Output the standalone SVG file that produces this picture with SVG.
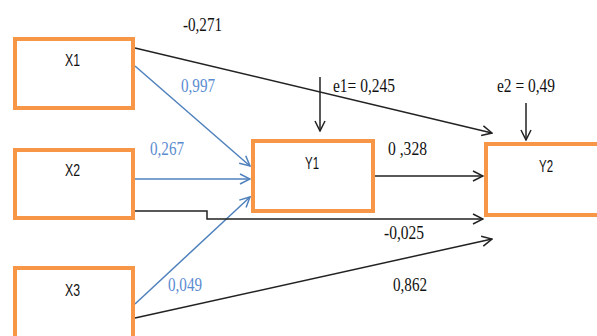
<svg xmlns="http://www.w3.org/2000/svg" width="597" height="336" viewBox="0 0 597 336">
<defs>
<style>
.box{fill:#fff;stroke:#F79646;stroke-width:4}
.lbl{font-family:"Liberation Sans",Arial,sans-serif;font-size:17px;fill:#111}
.num{font-family:"Liberation Serif","Times New Roman",serif;font-size:19px;fill:#111}
.bnum{font-family:"Liberation Serif","Times New Roman",serif;font-size:19px;fill:#5B8BD0}
.k{fill:none;stroke:#222;stroke-width:1.5}
.b{fill:none;stroke:#4F81BD;stroke-width:1.5}
</style>
<marker id="ak" viewBox="0 0 12 12" refX="11" refY="6" markerWidth="12" markerHeight="12" markerUnits="userSpaceOnUse" orient="auto">
<path d="M1,1 L11,6 L1,11" fill="none" stroke="#222" stroke-width="1.5"/>
</marker>
<marker id="ab" viewBox="0 0 12 12" refX="11" refY="6" markerWidth="12" markerHeight="12" markerUnits="userSpaceOnUse" orient="auto">
<path d="M1,1 L11,6 L1,11" fill="none" stroke="#4F81BD" stroke-width="1.5"/>
</marker>
</defs>
<rect width="597" height="336" fill="#fff"/>
<g id="connectors">
<line class="k" x1="135" y1="48" x2="492" y2="133" marker-end="url(#ak)"/>
<line class="b" x1="135" y1="66" x2="250" y2="166" marker-end="url(#ab)"/>
<line class="b" x1="135" y1="179" x2="250" y2="179" marker-end="url(#ab)"/>
<line class="b" x1="135" y1="304" x2="250" y2="197" marker-end="url(#ab)"/>
<path class="k" d="M135,211 H207 V219 H483" marker-end="url(#ak)"/>
<line class="k" x1="374" y1="176" x2="483" y2="176" marker-end="url(#ak)"/>
<line class="k" x1="135" y1="318" x2="492" y2="239" marker-end="url(#ak)"/>
<line class="k" x1="320" y1="77" x2="320" y2="131" marker-end="url(#ak)"/>
<line class="k" x1="526" y1="103" x2="526" y2="140" marker-end="url(#ak)"/>
</g>
<g id="X1"><rect class="box" x="15" y="39" width="118" height="69"/><text class="lbl" x="65" y="66" textLength="15" lengthAdjust="spacingAndGlyphs">X1</text></g>
<g id="X2"><rect class="box" x="15" y="150" width="118" height="68"/><text class="lbl" x="65" y="176" textLength="15" lengthAdjust="spacingAndGlyphs">X2</text></g>
<g id="X3"><rect class="box" x="15" y="268" width="118" height="80"/><text class="lbl" x="65" y="296" textLength="15" lengthAdjust="spacingAndGlyphs">X3</text></g>
<g id="Y1"><rect class="box" x="253" y="141" width="120" height="70"/><text class="lbl" x="305" y="169" textLength="14" lengthAdjust="spacingAndGlyphs">Y1</text></g>
<g id="Y2"><rect class="box" x="486" y="144" width="120" height="71"/><text class="lbl" x="539" y="172" textLength="14" lengthAdjust="spacingAndGlyphs">Y2</text></g>
<g id="labels">
<text class="num" x="183" y="31" textLength="39" lengthAdjust="spacingAndGlyphs">-0,271</text>
<text class="bnum" x="181" y="92" textLength="34" lengthAdjust="spacingAndGlyphs">0,997</text>
<text class="bnum" x="150" y="155" textLength="34" lengthAdjust="spacingAndGlyphs">0,267</text>
<text class="bnum" x="168" y="291" textLength="34" lengthAdjust="spacingAndGlyphs">0,049</text>
<text class="num" x="333" y="92" textLength="62" lengthAdjust="spacingAndGlyphs">e1= 0,245</text>
<text class="num" x="497" y="92" textLength="58" lengthAdjust="spacingAndGlyphs">e2 = 0,49</text>
<text class="num" x="388" y="155" textLength="39" lengthAdjust="spacingAndGlyphs">0 ,328</text>
<text class="num" x="384" y="239" textLength="40" lengthAdjust="spacingAndGlyphs">-0,025</text>
<text class="num" x="393" y="291" textLength="34" lengthAdjust="spacingAndGlyphs">0,862</text>
</g>
</svg>
